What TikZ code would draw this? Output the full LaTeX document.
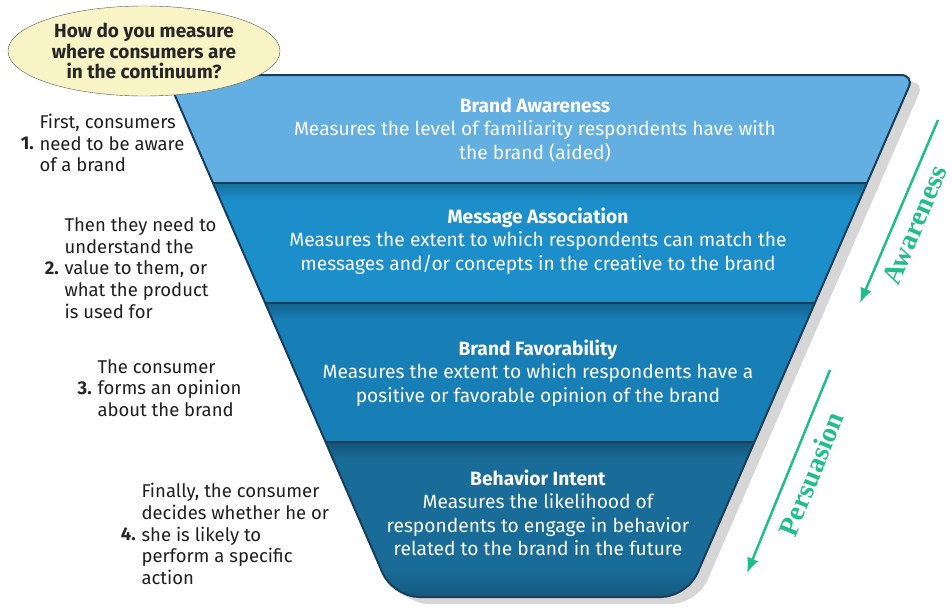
\documentclass[tikz,border=0pt]{standalone}
\usepackage{fontspec}
\setmainfont{Fira Sans}
\newfontfamily\stagefont{Liberation Serif}
\usepackage{tikz}
\usetikzlibrary{arrows.meta, shapes.geometric}

\definecolor{bandA}{RGB}{99,175,226}
\definecolor{bandB}{RGB}{28,143,203}
\definecolor{bandC}{RGB}{24,127,182}
\definecolor{bandD}{RGB}{25,108,152}
\definecolor{rim}{RGB}{24,62,92}
\definecolor{mint}{RGB}{34,190,136}
\definecolor{cream}{RGB}{249,244,198}

% outline of the funnel, in pixel units
\newcommand{\funnelpath}{[rounded corners=13pt] (540,75) -- (914,75) [rounded corners=26pt] -- (687,597) -- (393,597) [rounded corners=13pt] -- (166,75) -- cycle}

\begin{document}
\begin{tikzpicture}[x=1pt, y=-1pt,
    bandtext/.style={text=white, align=center, font=\fontsize{19.2}{23.5}\selectfont},
    note/.style={anchor=west, align=left, text=black!88, font=\fontsize{18.5}{21.7}\selectfont},
    num/.style={anchor=east, inner sep=2pt, text=black!85, font=\bfseries\fontsize{18.5}{20}\selectfont},
    stage/.style={text=mint, font=\stagefont\bfseries\fontsize{28}{28}\selectfont},
    stagearrow/.style={draw=mint, line width=2.5pt, -{Latex[length=15pt, width=12pt]}}]
\useasboundingbox (0,0) rectangle (952,610);

% shadow, then the four bands
\fill[black!16, shift={(10,7)}] \funnelpath;
\begin{scope}
    \clip \funnelpath;
    \fill[bandA] (150,60) rectangle (930,183);
    \fill[bandB] (150,183) rectangle (930,303);
    \fill[bandC] (150,303) rectangle (930,442);
    \fill[bandD] (150,442) rectangle (930,610);
    \shade[top color=bandB!78!black, bottom color=bandB] (150,183) rectangle (930,200);
    \shade[top color=bandC!78!black, bottom color=bandC] (150,303) rectangle (930,320);
    \shade[top color=bandD!78!black, bottom color=bandD] (150,442) rectangle (930,459);
    \shade[top color=bandD, bottom color=bandD!80!black] (150,570) rectangle (930,600);
    \draw[rim, line width=1.8pt] (150,183) -- (930,183);
    \draw[rim, line width=1.8pt] (150,303) -- (930,303);
    \draw[rim, line width=1.8pt] (150,442) -- (930,442);
\end{scope}
\draw[rim, line width=2pt] \funnelpath;

\node[bandtext] (aware) at (535,130) {\textbf{Brand Awareness}\\Measures the level of familiarity respondents have with\\the brand (aided)};
\node[bandtext] (assoc) at (538,241) {\textbf{Message Association}\\Measures the extent to which respondents can match the\\messages and/or concepts in the creative to the brand};
\node[bandtext] (favor) at (538,373) {\textbf{Brand Favorability}\\Measures the extent to which respondents have a\\positive or favorable opinion of the brand};
\node[bandtext] (intent) at (538,513) {\textbf{Behavior Intent}\\Measures the likelihood of\\respondents to engage in behavior\\related to the brand in the future};

% steps on the left
\node[note] (note1) at (36,143) {First, consumers\\need to be aware\\of a brand};
\node[num] (num1) at (note1.west) {1.};
\node[note] (note2) at (61,268) {Then they need to\\understand the\\value to them, or\\what the product\\is used for};
\node[num] (num2) at (note2.west) {2.};
\node[note] (note3) at (94,388) {The consumer\\forms an opinion\\about the brand};
\node[num] (num3) at (note3.west) {3.};
\node[note] (note4) at (138,534) {Finally, the consumer\\decides whether he or\\she is likely to\\perform a specific\\action};
\node[num] (num4) at (note4.west) {4.};

\node[ellipse, draw=black!65, fill=cream, minimum width=272pt, minimum height=90pt, inner sep=0pt,
    align=center, text=black!85, font=\bfseries\fontsize{19}{20.5}\selectfont] (question) at (144,51)
    {How do you measure\\where consumers are\\in the continuum?};

% stages on the right
\coordinate (awtop) at (938,120);
\coordinate (awtip) at (860,303);
\draw[stagearrow] (awtop) -- (awtip);
\node[stage, rotate=67] (awlabel) at (915,225) {Awareness};
\coordinate (petop) at (830,370);
\coordinate (petip) at (747,573);
\draw[stagearrow] (petop) -- (petip);
\node[stage, rotate=68] (pelabel) at (811,474) {Persuasion};
\end{tikzpicture}
\end{document}
